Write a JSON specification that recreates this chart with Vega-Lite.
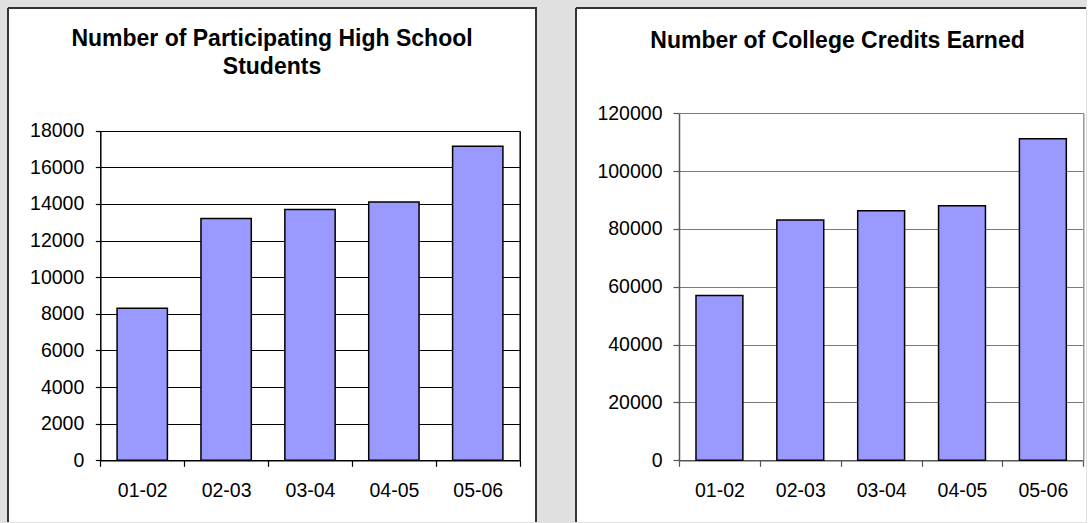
{
  "$schema": "https://vega.github.io/schema/vega-lite/v6.json",
  "background": "#e0e0e0",
  "padding": {"left": 7, "top": 7, "right": 0, "bottom": 0},
  "spacing": 38,
  "config": {
    "font": "Liberation Sans",
    "axis": {"labelFont": "Liberation Sans", "labelFontSize": 19.5, "labelColor": "black", "title": null}
  },
  "datasets": {
    "d": [
      {"year": "01-02", "students": 8300, "credits": 57000},
      {"year": "02-03", "students": 13200, "credits": 83100},
      {"year": "03-04", "students": 13700, "credits": 86300},
      {"year": "04-05", "students": 14100, "credits": 88000},
      {"year": "05-06", "students": 17150, "credits": 111200}
    ]
  },
  "hconcat": [
    {
      "width": 528,
      "height": 514,
      "data": {"name": "d"},
      "view": {"fill": "white", "stroke": "#333333", "strokeWidth": 2, "strokeDash": [1042, 528, 514, 0]},
      "title": {
        "text": ["Number of Participating High School", "Students"],
        "fontSize": 23, "fontWeight": "bold", "font": "Liberation Sans", "color": "black",
        "lineHeight": 28, "anchor": "middle", "frame": "group", "offset": -71
      },
      "layer": [
        {
          "mark": {"type": "bar", "fill": "#9999ff", "stroke": "black", "strokeWidth": 1.5, "width": {"band": 0.6}},
          "encoding": {
            "x": {"field": "year", "type": "ordinal", "sort": null,
              "scale": {"range": [92.3, 511.7], "paddingInner": 0, "paddingOuter": 0},
              "axis": {"orient": "bottom", "offset": -61.7, "labelAngle": 0, "tickBand": "extent", "tickSize": 6, "labelPadding": 15, "domainColor": "black", "tickColor": "black", "domainWidth": 1.5, "tickWidth": 1.2, "grid": false}},
            "y": {"field": "students", "type": "quantitative",
              "scale": {"domain": [0, 18000], "range": [452.3, 122.7], "nice": false},
              "axis": {"orient": "left", "offset": -92.3, "values": [0, 2000, 4000, 6000, 8000, 10000, 12000, 14000, 16000, 18000], "format": "d", "tickSize": 5, "labelPadding": 11.5, "domainColor": "black", "tickColor": "black", "domainWidth": 1.5, "tickWidth": 1.2, "grid": true, "gridColor": "black", "gridWidth": 1.1, "gridOpacity": 1}}
          }
        },
        {
          "mark": {"type": "rule", "opacity": 0},
          "encoding": {
            "y": {"field": "students", "type": "quantitative",
              "scale": {"domain": [0, 18000], "range": [452.3, 122.7], "nice": false},
              "axis": {"orient": "right", "offset": -16.3, "ticks": false, "labels": false, "grid": false, "domainColor": "black", "domainWidth": 1.5}}
          }
        }
      ],
      "resolve": {"axis": {"y": "independent"}}
    },
    {
      "width": 510,
      "height": 514,
      "data": {"name": "d"},
      "view": {"fill": "white", "stroke": "#333333", "strokeWidth": 2, "strokeDash": [510, 1024, 514, 0]},
      "title": {
        "text": "Number of College Credits Earned",
        "fontSize": 23, "fontWeight": "bold", "font": "Liberation Sans", "color": "black",
        "anchor": "middle", "frame": "group", "offset": -45, "dx": 6.5
      },
      "layer": [
        {
          "mark": {"type": "bar", "fill": "#9999ff", "stroke": "black", "strokeWidth": 1.5, "width": {"band": 0.58}},
          "encoding": {
            "x": {"field": "year", "type": "ordinal", "sort": null,
              "scale": {"range": [103, 507.3], "paddingInner": 0, "paddingOuter": 0},
              "axis": {"orient": "bottom", "offset": -61.7, "labelAngle": 0, "tickBand": "extent", "tickSize": 6, "labelPadding": 15, "domainColor": "#555555", "tickColor": "#555555", "domainWidth": 1.5, "tickWidth": 1.2, "grid": false}},
            "y": {"field": "credits", "type": "quantitative",
              "scale": {"domain": [0, 120000], "range": [452.3, 105.3], "nice": false},
              "axis": {"orient": "left", "offset": -103, "values": [0, 20000, 40000, 60000, 80000, 100000, 120000], "format": "d", "tickSize": 6, "labelPadding": 11, "domainColor": "#555555", "tickColor": "#555555", "domainWidth": 1.5, "tickWidth": 1.2, "grid": true, "gridColor": "#7a7a7a", "gridWidth": 1.1, "gridOpacity": 1}}
          }
        },
        {
          "mark": {"type": "rule", "opacity": 0},
          "encoding": {
            "y": {"field": "credits", "type": "quantitative",
              "scale": {"domain": [0, 120000], "range": [452.3, 105.3], "nice": false},
              "axis": {"orient": "right", "offset": -2.7, "ticks": false, "labels": false, "grid": false, "domainColor": "#999999", "domainWidth": 1.5}}
          }
        }
      ],
      "resolve": {"axis": {"y": "independent"}}
    }
  ]
}
